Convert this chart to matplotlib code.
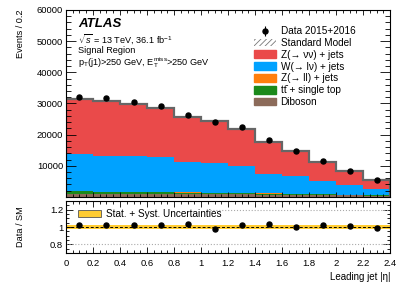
import numpy as np
import matplotlib
matplotlib.use("Agg")
import matplotlib.pyplot as plt
from matplotlib.patches import Patch
from matplotlib.ticker import MultipleLocator

plt.rcParams['font.family'] = ['Liberation Sans', 'DejaVu Sans']
plt.rcParams['mathtext.fontset'] = 'custom'
plt.rcParams['mathtext.rm'] = 'Liberation Sans'
plt.rcParams['mathtext.it'] = 'Liberation Sans:italic'
plt.rcParams['hatch.color'] = '#777777'
plt.rcParams['hatch.linewidth'] = 0.6

# Binning in leading jet |eta|
edges = np.round(np.arange(0, 2.41, 0.2), 2)
centers = edges[:-1] + 0.1

# Background contributions (events per bin)
diboson = [1000, 980, 960, 940, 900, 870, 830, 760, 680, 590, 490, 380]
ttbar = [750, 600, 600, 560, 450, 430, 380, 320, 270, 210, 160, 110]
zll = [130, 60, 60, 150, 90, 90, 60, 50, 40, 40, 30, 20]
wlnu = [11820, 11560, 11380, 11050, 9760, 9510, 8730, 6370, 5710, 4360, 3220, 1990]
znunu = [17700, 17600, 16900, 16000, 14400, 13600, 11700, 10200, 7900, 6100, 4300, 2950]
sm_err = [320, 310, 300, 290, 260, 250, 230, 200, 170, 140, 110, 80]

# Observed data
data = [32200, 31600, 30500, 29300, 26400, 23900, 22300, 18300, 14650, 11550, 8250, 5370]
ratio_band = 0.02

fig = plt.figure(figsize=(4.15, 2.85), dpi=100)
ax = fig.add_axes([0.159, 0.309, 0.781, 0.656])
ax2 = fig.add_axes([0.159, 0.112, 0.781, 0.183])

colors = {'dib': '#8c6b5a', 'top': '#1b8a1b', 'zll': '#ff7f0e',
          'w': '#00a2ff', 'z': '#ea4a4a'}

# Stacked histograms
bottom = np.zeros(len(centers))
stack = [(diboson, colors['dib']), (ttbar, colors['top']), (zll, colors['zll']),
         (wlnu, colors['w']), (znunu, colors['z'])]
for vals, c in stack:
    top = bottom + np.array(vals)
    ax.stairs(top, edges, baseline=bottom, fill=True, color=c, lw=0)
    bottom = top
sm = bottom

# SM uncertainty and total line
ax.stairs(sm + np.array(sm_err), edges, baseline=sm - np.array(sm_err),
          fill=True, facecolor='none', edgecolor='#777777', hatch='//////', lw=0)
ax.stairs(sm, edges, color='#666666', lw=1.6)

# Data points
data = np.array(data)
eb = ax.errorbar(centers, data, yerr=np.sqrt(data), fmt='o', color='black',
                 ms=3.6, lw=0.8, capsize=0)

ax.set_xlim(0, 2.4)
ax.set_ylim(0, 60000)
ax.set_yticks(range(10000, 60001, 10000))
ax.yaxis.set_minor_locator(MultipleLocator(2000))
ax.xaxis.set_major_locator(MultipleLocator(0.2))
ax.xaxis.set_minor_locator(MultipleLocator(0.05))
ax.tick_params(axis='both', which='both', direction='in', top=True, right=True,
               labelsize=6.8, width=0.6, pad=2)
ax.tick_params(axis='y', which='major', length=7)
ax.tick_params(axis='y', which='minor', length=3.5)
ax.tick_params(axis='x', which='major', length=3.5)
ax.tick_params(axis='x', which='minor', length=2)
ax.tick_params(axis='x', labelbottom=False)
ax.set_ylabel('Events / 0.2', fontsize=6.6, loc='top')
ax.yaxis.set_label_coords(-0.127, 1.0)

# Annotations
ax.text(0.037, 0.91, 'ATLAS', transform=ax.transAxes, fontsize=9.5,
        fontweight='bold', fontstyle='italic', va='baseline')
ax.text(0.037, 0.822, r'$\sqrt{s}$ = 13 TeV, 36.1 fb$^{-1}$', transform=ax.transAxes,
        fontsize=6.6, va='baseline')
ax.text(0.037, 0.768, 'Signal Region', transform=ax.transAxes, fontsize=6.6,
        va='baseline')
ax.text(0.037, 0.702, r'p$_{\mathrm{T}}$(j1)>250 GeV, E$_{\mathrm{T}}^{\mathrm{miss}}$>250 GeV',
        transform=ax.transAxes, fontsize=6.6, va='baseline')

handles = [eb,
           Patch(facecolor='white', edgecolor='#777777', hatch='//////', lw=0),
           Patch(color=colors['z']), Patch(color=colors['w']),
           Patch(color=colors['zll']), Patch(color=colors['top']),
           Patch(color=colors['dib'])]
labels = ['Data 2015+2016', 'Standard Model', 'Z(→ νν) + jets', 'W(→ lν) + jets',
          'Z(→ ll) + jets', 'tt\u0304 + single top', 'Diboson']
ax.legend(handles, labels, loc='upper left', bbox_to_anchor=(0.565, 0.94),
          frameon=False, fontsize=7.2, handlelength=2.2, handleheight=0.8,
          labelspacing=0.18, borderpad=0, handletextpad=0.45)

# Ratio panel
ratio = data / sm
ax2.stairs(np.full(len(centers), 1 + ratio_band), edges,
           baseline=np.full(len(centers), 1 - ratio_band),
           fill=True, color='#ffcc33', lw=0)
ax2.axhline(1.0, color='black', ls=(0, (3, 2)), lw=0.7)
ax2.axhline(0.8, color='#aaaaaa', ls=':', lw=0.8)
ax2.axhline(1.2, xmin=0.435, color='#aaaaaa', ls=':', lw=0.8)
ax2.errorbar(centers, ratio, yerr=np.sqrt(data) / sm, fmt='o', color='black',
             ms=3.6, lw=0.8, capsize=0)
ax2.legend([Patch(facecolor='#ffcc33', edgecolor='#555555', lw=0.6)],
           ['Stat. + Syst. Uncertainties'], loc='upper left',
           bbox_to_anchor=(0.02, 0.96), frameon=False, fontsize=7.2,
           handlelength=2.3, handleheight=0.8, borderpad=0.1, handletextpad=0.5)

ax2.set_xlim(0, 2.4)
ax2.set_ylim(0.7, 1.3)
ax2.set_yticks([0.8, 1.0, 1.2], ['0.8', '1', '1.2'])
ax2.yaxis.set_minor_locator(MultipleLocator(0.05))
ax2.set_xticks(edges, ['%g' % e for e in edges])
ax2.xaxis.set_minor_locator(MultipleLocator(0.05))
ax2.tick_params(axis='both', which='both', direction='in', top=True, right=True,
                labelsize=6.8, width=0.6)
ax2.tick_params(axis='x', which='major', length=4, pad=4)
ax2.tick_params(axis='x', which='minor', length=2)
ax2.tick_params(axis='y', which='major', length=5, pad=2)
ax2.tick_params(axis='y', which='minor', length=2.5)
ax2.set_ylabel('Data / SM', fontsize=6.6)
ax2.yaxis.set_label_coords(-0.127, 0.5)
ax2.set_xlabel('Leading jet |η|', fontsize=7, loc='right')
ax2.xaxis.set_label_coords(1.0, -0.36)

for a in (ax, ax2):
    for s in a.spines.values():
        s.set_linewidth(0.8)

fig.savefig('out.png', dpi=100)
